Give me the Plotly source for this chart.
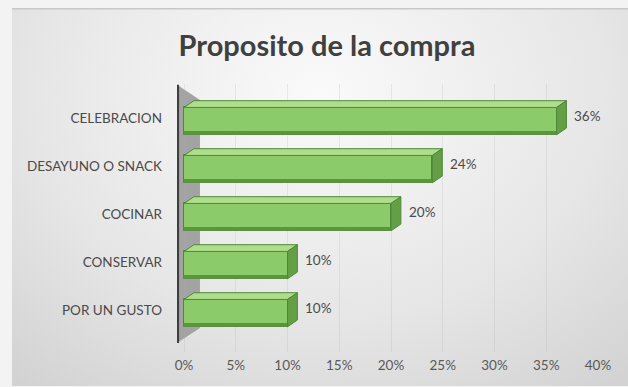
import base64
import plotly.graph_objects as go

# Purpose-of-purchase shares
categories = ["CELEBRACION", "DESAYUNO O SNACK", "COCINAR", "CONSERVAR", "POR UN GUSTO"]
shares = [0.36, 0.24, 0.20, 0.10, 0.10]
tick_vals = [0, 0.05, 0.10, 0.15, 0.20, 0.25, 0.30, 0.35, 0.40]
tick_text = ["0%", "5%", "10%", "15%", "20%", "25%", "30%", "35%", "40%"]

W, H = 628, 387
M_L, M_R, M_T, M_B = 177, 30, 84, 35
X_RANGE = [-0.0068, 0.40]
Y_RANGE = [4.875, -0.708]

PLOT_W = W - M_L - M_R
PLOT_H = H - M_T - M_B

FONT = "Lato, Carlito, sans-serif"


def px_x(px):
    return (px - M_L) / PLOT_W


def px_y(py):
    return (H - M_B - py) / PLOT_H


# 3D styling: depth offset of each bar (x in data units, y in category units)
DX = 0.0095
DY = 0.14
FRONT_TOP = -0.22
FRONT_H = 0.57

FRONT = "#8ccb69"
TOP = "#aedd8c"
SIDE = "#649f45"
SHADE = "#5e9440"
EDGE = "#50873a"

ypos = list(range(len(categories)))

fig = go.Figure()

fig.add_trace(go.Bar(
    x=shares,
    y=ypos,
    orientation="h",
    base=0,
    width=FRONT_H,
    offset=FRONT_TOP,
    marker=dict(color=FRONT, line=dict(color=EDGE, width=1)),
    hoverinfo="skip",
))

shapes = []

# left wall of the 3D frame
wall_x0 = X_RANGE[0]
wall_x1 = X_RANGE[0] + 0.0222
shapes.append(dict(
    type="path", xref="x", yref="y", layer="below",
    path=(f"M {wall_x0},{-0.69} L {wall_x1},{-0.375} "
          f"L {wall_x1},{4.375} L {wall_x0},{4.69} Z"),
    fillcolor="#a3a3a3", line=dict(width=0),
))
shapes.append(dict(
    type="line", xref="x", yref="y", layer="above",
    x0=wall_x0 + 0.0008, x1=wall_x0 + 0.0008, y0=-0.69, y1=4.69,
    line=dict(color="#3f3f3f", width=2.5),
))

annotations = []
for k, v in zip(ypos, shares):
    ft = k + FRONT_TOP
    fb = ft + FRONT_H
    # top face
    shapes.append(dict(
        type="path", xref="x", yref="y", layer="above",
        path=f"M 0,{ft} L {v},{ft} L {v + DX},{ft - DY} L {DX},{ft - DY} Z",
        fillcolor=TOP, line=dict(color=EDGE, width=1),
    ))
    # darker lower band of the front face
    shapes.append(dict(
        type="rect", xref="x", yref="y", layer="above",
        x0=0, x1=v, y0=fb - 0.08, y1=fb,
        fillcolor=SHADE, line=dict(width=0),
    ))
    # right side face
    shapes.append(dict(
        type="path", xref="x", yref="y", layer="above",
        path=(f"M {v},{ft} L {v + DX},{ft - DY} "
              f"L {v + DX},{fb - DY} L {v},{fb} Z"),
        fillcolor=SIDE, line=dict(color=EDGE, width=1),
    ))
    annotations.append(dict(
        x=v + DX, y=k - 0.05, xref="x", yref="y",
        text=f"{v * 100:.0f}%", showarrow=False,
        xanchor="left", xshift=6,
        font=dict(family=FONT, size=13.5, color="#4a4a4a"),
    ))

# soft radial background of the chart frame
svg = (
    '<svg xmlns="http://www.w3.org/2000/svg" width="616" height="377" '
    'preserveAspectRatio="none" viewBox="0 0 616 377">'
    '<defs><radialGradient id="g" cx="0.5" cy="0.22" r="0.85" '
    'gradientTransform="translate(0.5 0.22) scale(1 1.3) translate(-0.5 -0.22)">'
    '<stop offset="0" stop-color="#fafafa"/>'
    '<stop offset="0.55" stop-color="#e6e6e6"/>'
    '<stop offset="1" stop-color="#cdcdcd"/></radialGradient></defs>'
    '<rect width="616" height="377" fill="url(#g)"/>'
    '<rect x="0" y="0" width="616" height="1.5" fill="#c8c8c8"/></svg>'
)
bg_src = "data:image/svg+xml;base64," + base64.b64encode(svg.encode()).decode()

fig.update_layout(
    width=W, height=H,
    margin=dict(l=M_L, r=M_R, t=M_T, b=M_B, pad=0),
    paper_bgcolor="#f3f3f3",
    plot_bgcolor="rgba(0,0,0,0)",
    showlegend=False,
    bargap=0,
    title=dict(
        text="<b>Proposito de la compra</b>",
        x=327 / W, xanchor="center",
        y=1 - 46 / H, yanchor="middle",
        font=dict(family=FONT, size=29, color="#404040"),
    ),
    xaxis=dict(
        range=X_RANGE,
        tickvals=tick_vals, ticktext=tick_text,
        showgrid=True, gridcolor="rgba(175,175,175,0.22)", gridwidth=1,
        zeroline=False, showline=False, ticks="",
        ticklabelstandoff=3,
        tickfont=dict(family=FONT, size=13.5, color="#595959"),
        fixedrange=True,
    ),
    yaxis=dict(
        range=Y_RANGE,
        tickvals=ypos, ticktext=categories,
        showgrid=False, zeroline=False, showline=False, ticks="",
        ticklabelstandoff=14,
        tickfont=dict(family=FONT, size=13.5, color="#4a4a4a"),
        fixedrange=True,
    ),
    shapes=shapes,
    annotations=annotations,
    images=[dict(
        source=bg_src, xref="paper", yref="paper",
        x=px_x(12), y=px_y(8),
        sizex=616 / PLOT_W, sizey=378 / PLOT_H,
        sizing="stretch", xanchor="left", yanchor="top", layer="below",
    )],
)

fig.write_html("out.html")
